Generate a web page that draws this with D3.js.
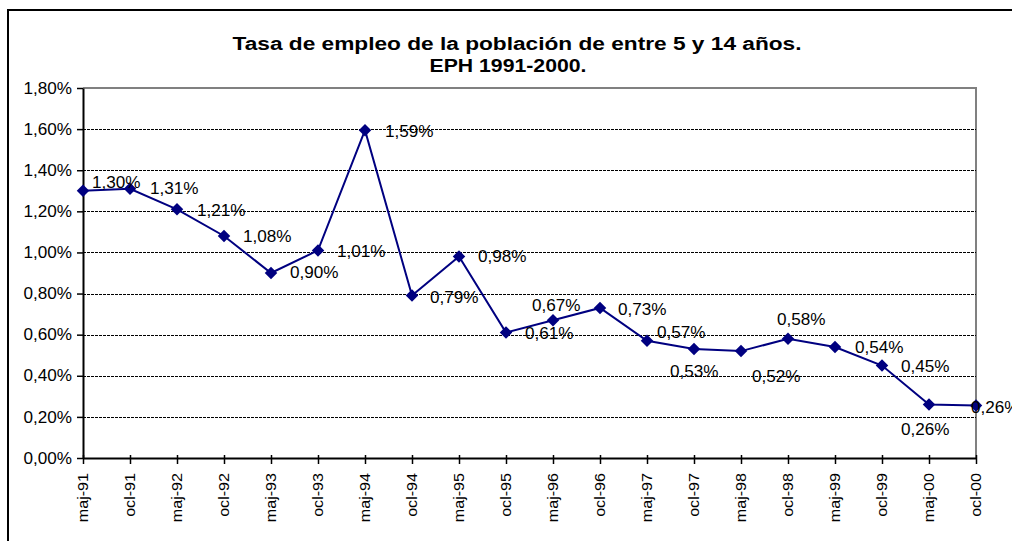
<!DOCTYPE html>
<html>
<head>
<meta charset="utf-8">
<script src="https://cdn.jsdelivr.net/npm/d3@7"></script>
<style>
  body { margin: 0; background: #fff; }
  svg { display: block; font-family: "Liberation Sans", Arial, sans-serif; }
</style>
</head>
<body>
<div id="chart"></div>
<script>
// data
const periods = ["maj-91","ocl-91","maj-92","ocl-92","maj-93","ocl-93","maj-94","ocl-94","maj-95","ocl-95",
                 "maj-96","ocl-96","maj-97","ocl-97","maj-98","ocl-98","maj-99","ocl-99","maj-00","ocl-00"];
const rates = [1.30, 1.31, 1.21, 1.08, 0.90, 1.01, 1.595, 0.79, 0.98, 0.61,
               0.67, 0.73, 0.57, 0.53, 0.52, 0.58, 0.54, 0.45, 0.26, 0.255];
const rateLabels = ["1,30%","1,31%","1,21%","1,08%","0,90%","1,01%","1,59%","0,79%","0,98%","0,61%",
                    "0,67%","0,73%","0,57%","0,53%","0,52%","0,58%","0,54%","0,45%","0,26%","0,26%"];
const yTicks = [0, 0.2, 0.4, 0.6, 0.8, 1.0, 1.2, 1.4, 1.6, 1.8];
// hand placed label offsets (like the excel original)
const labelOffsets = [[9,-3],[20,5],[20,7],[19,6],[19,5],[19,7],[20,7],[18,7],[19,5],[19,6],
                      [-21,-9],[18,7],[10,-3],[-24,28],[11,31],[-11,-14],[20,6],[19,6],[-28,30],[-5,7]];

const width = 1012, height = 541;
const plot = {left: 83, right: 976, top: 88, bottom: 458};
const lineColor = "#000080";
const stretch = 1.07; // the excel export has wide glyphs

const svg = d3.select("#chart").append("svg")
    .attr("width", width)
    .attr("height", height);

// widen text horizontally, keeping its anchor
function widen(sel, k) {
  sel.each(function() {
    const w = this.getComputedTextLength();
    d3.select(this).attr("textLength", w * k).attr("lengthAdjust", "spacingAndGlyphs");
  });
}

// outer frame (cut off at right / bottom in the original)
svg.append("rect")
    .attr("x", 8).attr("y", 10)
    .attr("width", 1100).attr("height", 600)
    .attr("fill", "none").attr("stroke", "#000").attr("stroke-width", 2);

// title
svg.append("text")
    .attr("x", 517).attr("y", 50)
    .attr("text-anchor", "middle")
    .style("font-weight", "bold").style("font-size", "18px")
    .attr("textLength", 569).attr("lengthAdjust", "spacingAndGlyphs")
    .text("Tasa de empleo de la población de entre 5 y 14 años.");
svg.append("text")
    .attr("x", 508).attr("y", 72)
    .attr("text-anchor", "middle")
    .style("font-weight", "bold").style("font-size", "18px")
    .attr("textLength", 157).attr("lengthAdjust", "spacingAndGlyphs")
    .text("EPH 1991-2000.");

var x = d3.scalePoint().domain(periods).range([plot.left, plot.right]);
var y = d3.scaleLinear().domain([0, 1.8]).range([plot.bottom, plot.top]);

// plot border (grey, top & right)
svg.append("path")
    .attr("d", `M${plot.left},${plot.top}H${plot.right}V${plot.bottom}`)
    .attr("fill", "none").attr("stroke", "#808080").attr("stroke-width", 2);

// dashed gridlines
svg.append("g")
    .attr("shape-rendering", "crispEdges")
  .selectAll("line")
  .data(yTicks.filter(d => d > 0 && d < 1.8))
  .enter().append("line")
    .attr("x1", plot.left).attr("x2", plot.right)
    .attr("y1", d => Math.round(y(d)) + 0.5).attr("y2", d => Math.round(y(d)) + 0.5)
    .attr("stroke", "#000").attr("stroke-width", 1)
    .attr("stroke-dasharray", "3,1");

// y axis
const yAxis = d3.axisLeft(y)
    .tickValues(yTicks)
    .tickSize(6)
    .tickSizeOuter(0)
    .tickFormat(d => d.toFixed(2).replace(".", ",") + "%");
const gy = svg.append("g")
    .attr("transform", `translate(${plot.left},0)`)
    .call(yAxis);
gy.select(".domain").attr("stroke", "#000").attr("stroke-width", 2);
gy.selectAll(".tick line").attr("stroke", "#000").attr("stroke-width", 1.5);
gy.selectAll(".tick text")
    .attr("x", -11)
    .attr("fill", "#000")
    .style("font-size", "16px")
    .style("font-family", "'Liberation Sans', Arial, sans-serif")
    .call(widen, stretch);

// x axis
const xAxis = d3.axisBottom(x).tickSize(6).tickSizeOuter(0);
const gx = svg.append("g")
    .attr("transform", `translate(0,${plot.bottom})`)
    .call(xAxis);
gx.select(".domain").attr("stroke", "#000").attr("stroke-width", 2);
gx.selectAll(".tick line").attr("y1", -3).attr("stroke", "#000").attr("stroke-width", 1.5);
gx.selectAll(".tick text")
    .attr("transform", "rotate(-90)")
    .attr("x", -15).attr("y", 0).attr("dy", "0.35em")
    .attr("text-anchor", "end")
    .attr("fill", "#000")
    .style("font-size", "14px")
    .style("font-family", "'Liberation Sans', Arial, sans-serif")
    .call(widen, 1.15);

// series line
const line = d3.line()
    .x((d, i) => x(periods[i]))
    .y(d => y(d));
svg.append("path")
    .datum(rates)
    .attr("d", line)
    .attr("fill", "none")
    .attr("stroke", lineColor)
    .attr("stroke-width", 2);

// diamond markers
const diamond = d3.symbol().type(d3.symbolDiamond2).size(100);
svg.append("g")
  .selectAll("path")
  .data(rates)
  .enter().append("path")
    .attr("d", diamond)
    .attr("transform", (d, i) => `translate(${x(periods[i])},${y(d)})`)
    .attr("fill", lineColor);

// data labels
svg.append("g")
  .selectAll("text")
  .data(rates)
  .enter().append("text")
    .attr("x", (d, i) => x(periods[i]) + labelOffsets[i][0])
    .attr("y", (d, i) => y(d) + labelOffsets[i][1])
    .attr("fill", "#000")
    .style("font-size", "16px")
    .text((d, i) => rateLabels[i])
    .call(widen, stretch);
</script>
</body>
</html>
